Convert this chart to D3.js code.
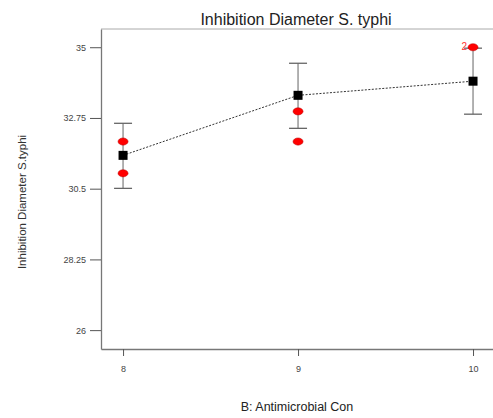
<!DOCTYPE html>
<html>
<head>
<meta charset="utf-8">
<script src="https://cdn.jsdelivr.net/npm/d3@7"></script>
<style>
  body { margin: 0; background: #fff; }
  text { font-family: "Liberation Sans", Arial, sans-serif; }
</style>
</head>
<body>
<svg class="plot" width="493" height="418"></svg>
<script>
// data
var levels = [8, 9, 10];
var means = [31.56, 33.47, 33.92];
var lowBars = [30.51, 32.42, 32.87];
var highBars = [32.58, 34.49, 34.97];
var obsX = [8, 8, 9, 9, 10];
var obsY = [32.0, 30.99, 32.96, 32.0, 35.0];
var obsCount = [1, 1, 1, 1, 2];
var yTicks = [26, 28.25, 30.5, 32.75, 35];

var svg = d3.select(".plot"),
    margin = {top: 29, right: -4, bottom: 69, left: 101},
    width = +svg.attr("width") - margin.left - margin.right,
    height = +svg.attr("height") - margin.top - margin.bottom;

var x = d3.scaleLinear().domain([7.874, 10.137]).range([0, width]),
    y = d3.scaleLinear().domain([25.4, 35.58]).range([height, 0]);

var g = svg.append("g")
    .attr("transform", "translate(" + margin.left + "," + margin.top + ")");

//frame
g.append("line").attr("x1", 0).attr("x2", width).attr("y1", 0).attr("y2", 0)
    .style("stroke", "#aaa");

//axes
var yAxis = g.append("g")
    .call(d3.axisLeft(y).tickValues(yTicks).tickSize(11).tickSizeOuter(0).tickPadding(4).tickFormat(d3.format("")));
var xAxis = g.append("g")
    .attr("transform", "translate(0," + height + ")")
    .call(d3.axisBottom(x).tickValues(levels).tickSize(7).tickSizeOuter(0).tickPadding(10).tickFormat(d3.format("d")));

[yAxis, xAxis].forEach(function(a) {
  a.select(".domain").style("stroke", "#777").style("stroke-width", 1.3);
  a.selectAll(".tick line").style("stroke", "#555");
  a.selectAll(".tick text").style("fill", "#444").style("font-size", "9px");
});

//titles
svg.append("text")
    .attr("x", 296).attr("y", 25)
    .style("font-size", "16px").style("fill", "#222")
    .style("text-anchor", "middle")
    .text("Inhibition Diameter S. typhi");

svg.append("text")
    .attr("x", 297).attr("y", 411)
    .style("font-size", "12.5px").style("fill", "#222")
    .style("text-anchor", "middle")
    .text("B: Antimicrobial Con");

svg.append("text")
    .attr("transform", "translate(26,202) rotate(-90)")
    .style("font-size", "11.5px").style("fill", "#333")
    .style("text-anchor", "middle")
    .text("Inhibition Diameter S.typhi");

//error bars
var bars = g.selectAll(".err").data(levels).enter().append("g").attr("class", "err");
bars.append("line")
    .attr("x1", function(d) { return x(d); }).attr("x2", function(d) { return x(d); })
    .attr("y1", function(d, i) { return y(highBars[i]); })
    .attr("y2", function(d, i) { return y(lowBars[i]); })
    .style("stroke", "#888").style("stroke-width", 1.3);
[highBars, lowBars].forEach(function(arr) {
  bars.append("line")
      .attr("x1", function(d) { return x(d) - 9; }).attr("x2", function(d) { return x(d) + 9; })
      .attr("y1", function(d, i) { return y(arr[i]); })
      .attr("y2", function(d, i) { return y(arr[i]); })
      .style("stroke", "#666").style("stroke-width", 1.3);
});

//dotted mean line
g.append("path")
    .datum(levels)
    .attr("d", d3.line().x(function(d) { return x(d); }).y(function(d, i) { return y(means[i]); }))
    .style("fill", "none").style("stroke", "#333").style("stroke-dasharray", "2,1.5");

//observations
g.selectAll(".obs").data(obsX).enter().append("ellipse")
    .attr("class", "obs")
    .attr("cx", function(d) { return x(d); })
    .attr("cy", function(d, i) { return y(obsY[i]); })
    .attr("rx", 5).attr("ry", 3.6)
    .style("fill", "#f00").style("stroke", "#b00").style("stroke-width", 0.5);

//count label for stacked observations
var multi = obsX.map(function(d, i) { return i; }).filter(function(i) { return obsCount[i] > 1; });
g.selectAll(".cnt").data(multi).enter().append("text")
    .attr("x", function(i) { return x(obsX[i]) - 6; })
    .attr("y", function(i) { return y(obsY[i]) + 3; })
    .style("font-size", "10px").style("fill", "#f33").style("text-anchor", "end")
    .text(function(i) { return obsCount[i]; });

//means
g.selectAll(".mean").data(levels).enter().append("rect")
    .attr("x", function(d) { return x(d) - 4.5; })
    .attr("y", function(d, i) { return y(means[i]) - 4.5; })
    .attr("width", 9).attr("height", 9)
    .style("fill", "#000");
</script>
</body>
</html>
